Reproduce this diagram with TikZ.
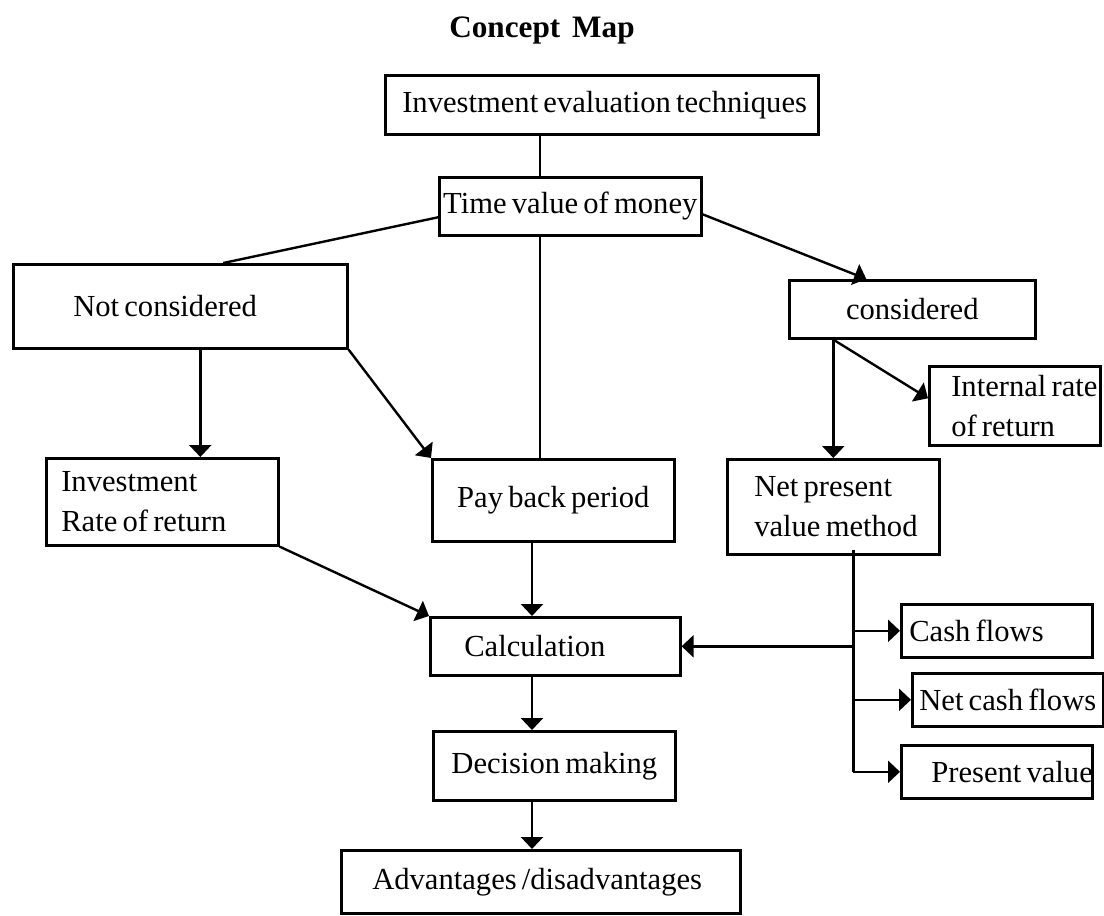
\documentclass[tikz,border=0pt]{standalone}
\usepackage{fontspec}
\setmainfont{Liberation Serif}
\usetikzlibrary{arrows.meta}

\tikzset{
  box/.style={draw, line width=1.3pt, anchor=north west, inner ysep=0pt},
  link/.style={line width=1.2pt},
  arr/.style={link, -{Triangle[width=11pt,length=6pt]}}
}

\begin{document}
\begin{tikzpicture}[x=0.5pt, y=-0.5pt,
    every node/.style={font=\fontsize{15.3}{20}\selectfont,
      execute at begin node={\setlength{\spaceskip}{2.6pt}\hyphenpenalty=10000 }}]
                    \useasboundingbox (0,0) rectangle (1104,916);

                    \node[anchor=base, font=\fontsize{15.6}{18}\selectfont\bfseries] (title) at (542,37) {Concept\hspace{6pt}Map};

                    % top of the map
                    \node[box, minimum width=216.5pt, minimum height=29.5pt, inner xsep=8.5pt, text width=199.5pt, align=left] (ivt) at (384,74) {Investment~evaluation~techniques};
                    \node[box, minimum width=131pt, minimum height=29pt, inner xsep=0pt, text width=131pt, align=center] (tvm) at (438,176) {Time~value~of~money};

                    % left branch
                    \node[box, minimum width=167pt, minimum height=42pt, inner xsep=30pt, text width=107pt, align=left] (notc) at (12,263) {Not~considered};
                    \node[box, minimum width=116pt, minimum height=43.5pt, inner xsep=7.5pt, text width=101pt, align=left] (inv) at (45,457) {Investment\\Rate~of~return};
                    \node[box, minimum width=121pt, minimum height=41pt, inner xsep=0pt, text width=121pt, align=center] (pbp) at (431,458) {Pay~back~period};

                    % right branch
                    \node[box, minimum width=123pt, minimum height=29pt, inner xsep=0pt, text width=123pt, align=center] (cons) at (788,279) {considered};
                    \node[box, minimum width=85.5pt, minimum height=39.5pt, inner xsep=11pt, text width=63.5pt, align=left] (irr) at (928,365) {Internal~rate\\of~return};
                    \node[box, minimum width=106pt, minimum height=47.5pt, inner xsep=13.5pt, text width=79pt, align=left] (npv) at (726,458) {Net~present\\value~method};
                    \node[box, minimum width=95.5pt, minimum height=26.5pt, inner xsep=4pt, text width=87.5pt, align=left] (cf) at (900,603) {Cash~flows};
                    \node[box, minimum width=95.5pt, minimum height=26.5pt, inner xsep=0pt, text width=95.5pt, align=center] (ncf) at (911,672) {Net~cash~flows};
                    \node[box, minimum width=95.5pt, minimum height=26.5pt, inner xsep=15pt, text width=65.5pt, align=left] (pv) at (900,744) {Present~value};

                    % bottom column
                    \node[box, minimum width=125pt, minimum height=29pt, inner xsep=17pt, text width=91pt, align=left] (calc) at (429,616) {Calculation};
                    \node[box, minimum width=121pt, minimum height=34.5pt, inner xsep=0pt, text width=121pt, align=center] (dec) at (432,730) {Decision~making};
                    \node[box, minimum width=199.5pt, minimum height=31.5pt, inner xsep=15.5pt, text width=168.5pt, align=left] (adv) at (340,849) {Advantages~/disadvantages};

                    \coordinate (spine) at (540,0);
                    \coordinate (stem) at (532,0);
                    \coordinate (fork) at (cons.south -| npv.north);
                    \coordinate (bus) at ([xshift=10pt,yshift=3pt]npv.south);

                    \draw[link] (ivt.south -| spine) -- (tvm.north -| spine);
                    \draw[link] (tvm.south -| spine) -- (pbp.north -| spine);
                    \draw[link] ([yshift=-5.5pt]tvm.west) -- ([xshift=21.5pt]notc.north);
                    \draw[arr] ([yshift=-4pt]tvm.east) -- ([xshift=-23pt]cons.north);

                    \draw[arr] ([xshift=10pt]notc.south) -- ([xshift=10pt]notc.south |- inv.north);
                    \draw[arr] (notc.south east) -- (pbp.north west);
                    \draw[arr] (inv.south east) -- (calc.north west);

                    \draw[arr] (fork) -- (npv.north);
                    \draw[arr] (fork) -- ([yshift=3.75pt]irr.west);

                    \draw[arr] (pbp.south -| stem) -- (calc.north -| stem);
                    \draw[arr] (calc.south -| stem) -- (dec.north -| stem);
                    \draw[arr] (dec.south -| stem) -- (adv.north -| stem);

                    \draw[link] (bus) -- (bus |- pv.west);
                    \foreach \b in {cf,ncf,pv}
                      \draw[arr] (bus |- \b.west) -- (\b.west);
                    \draw[arr] (bus |- calc.east) -- (calc.east);
                \end{tikzpicture}
\end{document}
